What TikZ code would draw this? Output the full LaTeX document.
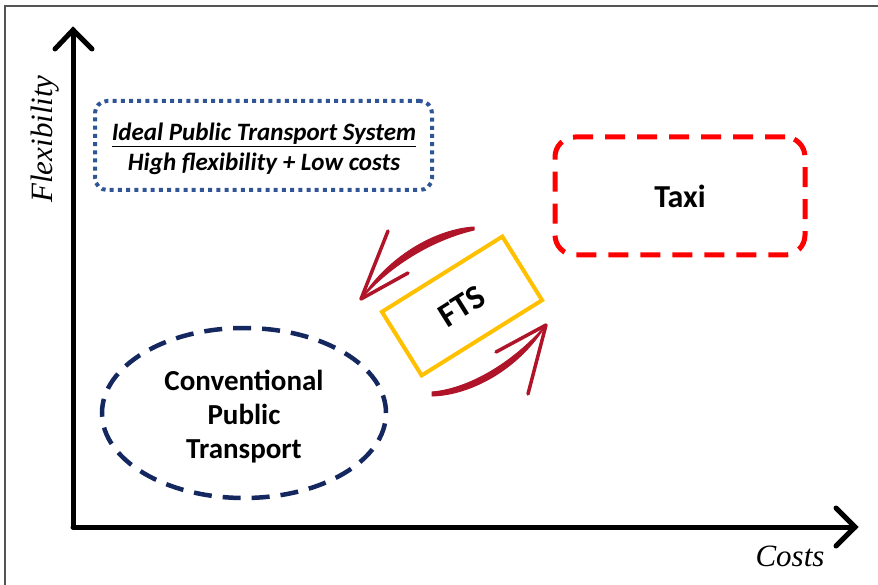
\documentclass[tikz,border=0pt]{standalone}
\usepackage{fontspec}
\setsansfont{Carlito}
\setmainfont{Liberation Serif}
\usetikzlibrary{shapes.geometric}
\definecolor{idealblue}{RGB}{47,85,151}
\definecolor{navy}{RGB}{20,40,95}
\definecolor{taxired}{RGB}{255,0,0}
\definecolor{ftsyellow}{RGB}{255,192,0}
\definecolor{arrowred}{RGB}{175,20,40}
\definecolor{framegray}{RGB}{85,85,85}
\tikzset{
  axis/.style={line width=5pt, line cap=round, line join=miter},
  axislabel/.style={font=\fontsize{31}{34}\selectfont\itshape},
  idealbox/.style={draw=idealblue, line width=4pt, rounded corners=12pt, dash pattern=on 4pt off 4.2pt,
     minimum width=337pt, minimum height=89pt, inner sep=0pt},
  idealtext/.style={align=center, inner sep=0pt,
     font=\sffamily\bfseries\itshape\fontsize{25}{30}\selectfont},
  taxibox/.style={draw=taxired, line width=5pt, rounded corners=20pt, dash pattern=on 20pt off 12pt,
     minimum width=250pt, minimum height=118pt, inner sep=0pt,
     font=\sffamily\bfseries\fontsize{32}{34}\selectfont},
  cptellipse/.style={draw=navy, ellipse, line width=4.5pt, dash pattern=on 18pt off 11pt,
     minimum width=284pt, minimum height=170pt, inner sep=0pt},
  cpttext/.style={align=center, inner sep=0pt,
     font=\sffamily\bfseries\fontsize{29}{34}\selectfont},
  ftsbox/.style={draw=ftsyellow, line width=4pt, minimum width=142pt, minimum height=75pt,
     inner sep=0pt, rotate=32, font=\sffamily\bfseries\fontsize{34}{36}\selectfont},
  redarrow/.style={draw=arrowred, line width=3.5pt, line cap=round, line join=round},
  redfill/.style={fill=arrowred, draw=arrowred, line width=1pt, line join=round},
}
\begin{document}
\begin{tikzpicture}[x=1pt, y=-1pt]
\useasboundingbox (0,0) rectangle (878,585);
% partial frame
\draw[framegray, line width=1.5pt] (5,585) -- (5,6) -- (878,6);
% axes
\coordinate (O) at (73,527);
\coordinate (ytop) at (73,30);
\coordinate (xend) at (855,527);
\draw[axis] (O) -- (ytop);
\draw[axis] (O) -- (xend);
\draw[axis] (55,49) -- (ytop) -- (92,49);
\draw[axis] (836,508) -- (xend) -- (836,546);
\node[axislabel, rotate=90] (flex) at (45,139) {Flexibility};
\node[axislabel] (costs) at (790,556) {Costs};
% ideal box
\node[idealbox] (ideal) at (263.5,145.5) {};
\node[idealtext] (idealtxt) at (264,149) {\underline{Ideal Public Transport System}\\High flexibility + Low costs};
% taxi
\node[taxibox] (taxi) at (680,196) {Taxi};
% conventional
\node[cptellipse] (cpt) at (244,413) {};
\node[cpttext] (cpttxt) at (244,416.5) {Conventional\\Public\\Transport};
% FTS
\node[ftsbox] (fts) at (462,306) {FTS};
% red arrows
\coordinate (a1tail) at (474,227);
\coordinate (a1tip) at (361,299);
\coordinate (a2tail) at (432,396);
\coordinate (a2tip) at (546,325);
\fill[redfill] (a1tail) .. controls (440,229) and (392,252) .. (a1tip)
   .. controls (396,259) and (440,238) .. (474,230) -- cycle;
\draw[redarrow] (388,231) -- (a1tip) -- (408,273);
\fill[redfill] (a2tail) .. controls (470,395) and (518,370) .. (a2tip)
   .. controls (512,364) and (468,389) .. (432,392) -- cycle;
\draw[redarrow] (528,394) -- (a2tip) -- (496,352);
\end{tikzpicture}
\end{document}
